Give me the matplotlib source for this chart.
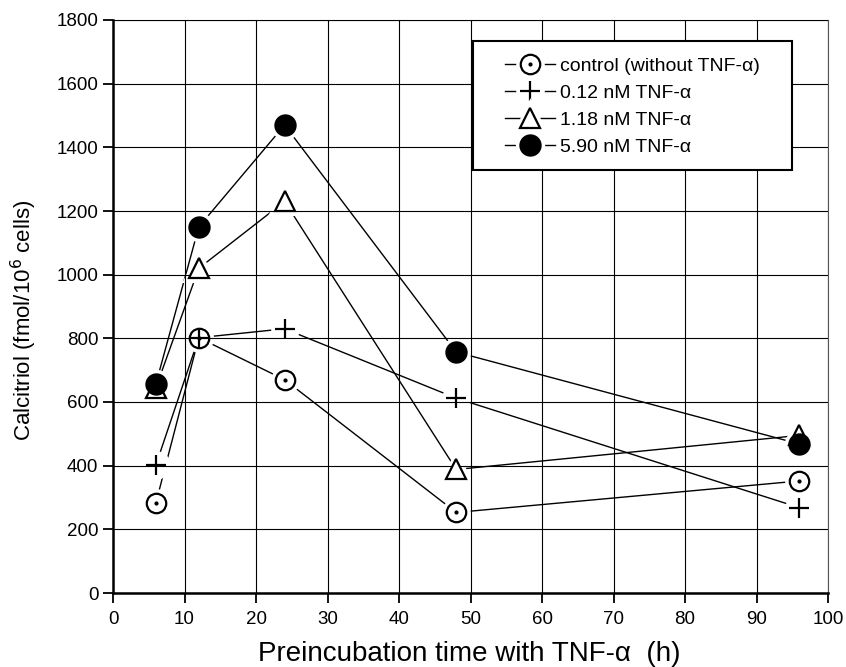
import matplotlib
matplotlib.use('Agg')
from matplotlib import pyplot as plt
from matplotlib.patches import Rectangle
from matplotlib.legend_handler import HandlerTuple

plt.rcParams['font.family'] = ['Liberation Sans', 'DejaVu Sans']

# data
hours = [6, 12, 24, 48, 96]
control = [283, 802, 670, 253, 352]
tnf_012 = [402, 802, 830, 612, 268]
tnf_118 = [645, 1020, 1230, 388, 495]
tnf_590 = [657, 1150, 1470, 757, 468]

series_labels = ['control (without TNF-\u03b1)', '0.12 nM TNF-\u03b1',
                 '1.18 nM TNF-\u03b1', '5.90 nM TNF-\u03b1']

x_ticks = list(range(0, 101, 10))
y_ticks = list(range(0, 1801, 200))


def draw_series(ax, x, y, marker, size, face, edge_w, dot=False, halo_marker=None):
    line, = ax.plot(x, y, color='black', lw=1.0, zorder=2)
    # white halo so the connecting lines stop short of each marker
    halo, = ax.plot(x, y, ls='none', marker=halo_marker or marker, ms=size,
                    mfc='white', mec='white', mew=edge_w + 5, zorder=2.2)
    mark, = ax.plot(x, y, ls='none', marker=marker, ms=size, mfc=face,
                    mec='black', mew=edge_w, zorder=3)
    parts = [line, halo, mark]
    if dot:
        d, = ax.plot(x, y, ls='none', marker='o', ms=2, mfc='black',
                     mec='black', zorder=3.1)
        parts.append(d)
    return tuple(parts)


def main():
    fig = plt.figure(figsize=(8.46, 6.67), dpi=100)
    ax = fig.add_axes([113 / 846, 1 - 593 / 667, 715 / 846, 573 / 667])

    handles = [
        draw_series(ax, hours, control, 'o', 14, 'white', 1.6, dot=True),
        draw_series(ax, hours, tnf_012, '+', 14, 'none', 1.6, halo_marker='o'),
        draw_series(ax, hours, tnf_118, '^', 15, 'white', 1.6),
        draw_series(ax, hours, tnf_590, 'o', 14.5, 'black', 1.6),
    ]

    ax.set_xlim(0, 100)
    ax.set_ylim(0, 1800)
    ax.set_xticks(x_ticks)
    ax.set_yticks(y_ticks)
    ax.set_axisbelow(False)
    ax.grid(True, color='black', lw=0.8)
    ax.tick_params(direction='out', length=7, width=1.3, labelsize=13.5,
                   colors='black')
    ax.tick_params(axis='x', pad=6)
    for side in ('left', 'bottom'):
        ax.spines[side].set_linewidth(1.8)
    for side in ('top', 'right'):
        ax.spines[side].set_linewidth(0.8)
        ax.spines[side].set_color('#555555')

    ax.set_xlabel('Preincubation time with TNF-\u03b1  (h)', fontsize=20)
    ax.xaxis.set_label_coords(0.498, -0.083)
    ax.set_ylabel('Calcitriol (fmol/10$^6$ cells)', fontsize=16)
    ax.yaxis.set_label_coords(-0.104, 0.475)

    # legend frame drawn separately so its padding can match the original
    frame = Rectangle((0.5035, 0.738), 0.4462, 0.2254, transform=ax.transAxes,
                      facecolor='white', edgecolor='black', lw=1.5, zorder=4.9)
    ax.add_patch(frame)
    leg = ax.legend(handles, series_labels,
                    handler_map={tuple: HandlerTuple(ndivide=1)},
                    loc='upper left', bbox_to_anchor=(0.548, 0.935),
                    fontsize=14, frameon=False,
                    handlelength=2.6, handletextpad=0.25, borderpad=0,
                    borderaxespad=0, labelspacing=0.48)
    leg.set_zorder(5)

    fig.savefig('out.png', dpi=100)


if __name__ == '__main__':
    main()
